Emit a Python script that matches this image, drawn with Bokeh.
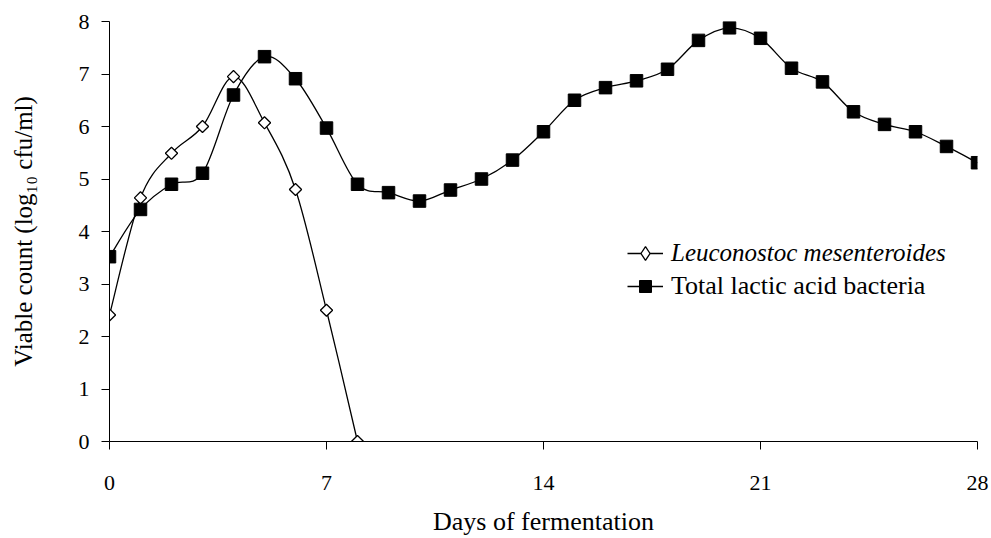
import math
from bokeh.plotting import figure
from bokeh.models import (ColumnDataSource, FixedTicker, Legend, LegendItem,
                          Range1d)
from bokeh.embed import file_html
from bokeh.resources import INLINE

# ---- data ----
days_leu = [0, 1, 2, 3, 4, 5, 6, 7, 8]
leuconostoc = [2.41, 4.64, 5.49, 6.00, 6.95, 6.07, 4.80, 2.50, 0.00]

days_lab = list(range(29))
total_lab = [3.52, 4.42, 4.90, 5.11, 6.60, 7.33, 6.91, 5.97, 4.90, 4.74,
             4.58, 4.79, 5.00, 5.36, 5.90, 6.50, 6.74, 6.87, 7.09, 7.64,
             7.88, 7.68, 7.11, 6.85, 6.28, 6.04, 5.90, 5.62, 5.31]

x_ticks = [0, 7, 14, 21, 28]
y_ticks = [0, 1, 2, 3, 4, 5, 6, 7, 8]

label_leu = "Leuconostoc mesenteroides"
label_lab = "Total lactic acid bacteria"
x_title = "Days of fermentation"
y_title = "Viable count (log\u2081\u2080 cfu/ml)"

FONT = "Liberation Serif"


def smooth_segments(xs, ys):
    """Bezier control points for a smoothed line through the data points."""
    n = len(xs)
    d = dict(x0=[], y0=[], x1=[], y1=[], cx0=[], cy0=[], cx1=[], cy1=[])
    for i in range(n - 1):
        a = max(i - 1, 0)
        b = min(i + 2, n - 1)
        d["x0"].append(xs[i]); d["y0"].append(ys[i])
        d["x1"].append(xs[i + 1]); d["y1"].append(ys[i + 1])
        d["cx0"].append(xs[i] + (xs[i + 1] - xs[a]) / 6.0)
        d["cy0"].append(ys[i] + (ys[i + 1] - ys[a]) / 6.0)
        d["cx1"].append(xs[i + 1] - (xs[b] - xs[i]) / 6.0)
        d["cy1"].append(ys[i + 1] - (ys[b] - ys[i]) / 6.0)
    return ColumnDataSource(d)


p = figure(width=991, height=538, output_backend="svg", toolbar_location=None,
           x_range=Range1d(0, 28), y_range=Range1d(0, 8),
           min_border_left=109, min_border_right=14, min_border_top=21,
           min_border_bottom=97)
p.extra_x_ranges = {"offscreen": Range1d(1000, 2000)}
p.outline_line_color = None
p.xgrid.visible = False
p.ygrid.visible = False
p.background_fill_color = "white"
p.border_fill_color = "white"

for ax in (p.xaxis[0], p.yaxis[0]):
    ax.axis_line_color = "black"
    ax.axis_line_width = 1
    ax.major_tick_line_color = "black"
    ax.major_tick_in = 0
    ax.major_tick_out = 8
    ax.minor_tick_line_color = None
    ax.major_label_text_font = FONT
    ax.major_label_text_font_size = "22px"
    ax.major_label_text_color = "black"
    ax.axis_label_text_font = FONT
    ax.axis_label_text_font_style = "normal"
    ax.axis_label_text_color = "black"

p.xaxis.ticker = FixedTicker(ticks=x_ticks)
p.yaxis.ticker = FixedTicker(ticks=y_ticks)
p.xaxis.axis_label = x_title
p.yaxis.axis_label = y_title
p.xaxis.axis_label_text_font_size = "26px"
p.yaxis.axis_label_text_font_size = "25px"
p.xaxis.major_label_standoff = 26
p.xaxis.axis_label_standoff = 14
p.yaxis.major_label_standoff = 12
p.yaxis.axis_label_standoff = 39

# ---- curves ----
seg_lab = smooth_segments(days_lab, total_lab)
seg_leu = smooth_segments(days_leu, leuconostoc)
r_lab_line = p.bezier(x0="x0", y0="y0", x1="x1", y1="y1", cx0="cx0", cy0="cy0",
                      cx1="cx1", cy1="cy1", source=seg_lab,
                      line_color="black", line_width=1.3)
r_leu_line = p.bezier(x0="x0", y0="y0", x1="x1", y1="y1", cx0="cx0", cy0="cy0",
                      cx1="cx1", cy1="cy1", source=seg_leu,
                      line_color="black", line_width=1.3)

src_lab = ColumnDataSource(dict(x=days_lab, y=total_lab))
src_leu = ColumnDataSource(dict(x=days_leu, y=leuconostoc))

r_leu_pts = p.scatter("x", "y", source=src_leu, marker="square", size=8.6,
                      angle=math.pi / 4, fill_color="white",
                      line_color="black", line_width=1.3)
r_lab_pts = p.scatter("x", "y", source=src_lab, marker="square", size=12.5,
                      fill_color="black", line_color="black", line_width=1)

# legend key for the diamonds (mapped onto an off-screen range, so not drawn)
r_leu_key = p.scatter("x", "y", source=src_leu, marker="diamond",
                      x_range_name="offscreen",
                      fill_color="white", line_color="black", line_width=1.3)

common = dict(border_line_color=None, background_fill_alpha=0, padding=0,
              margin=0, glyph_width=36, label_standoff=8, spacing=0,
              label_text_font=FONT, label_text_color="black")

leg1 = Legend(items=[LegendItem(label=label_leu, renderers=[r_leu_line, r_leu_key])],
              location=(518, 171), glyph_height=34, label_height=34,
              label_text_font_size="25px", label_text_font_style="italic",
              **common)
leg2 = Legend(items=[LegendItem(label=label_lab, renderers=[r_lab_line, r_lab_pts])],
              location=(518, 140), glyph_height=30, label_height=30,
              label_text_font_size="26px", label_text_font_style="normal",
              **common)
p.add_layout(leg1, "center")
p.add_layout(leg2, "center")

open("out.html", "w").write(file_html(p, INLINE))
